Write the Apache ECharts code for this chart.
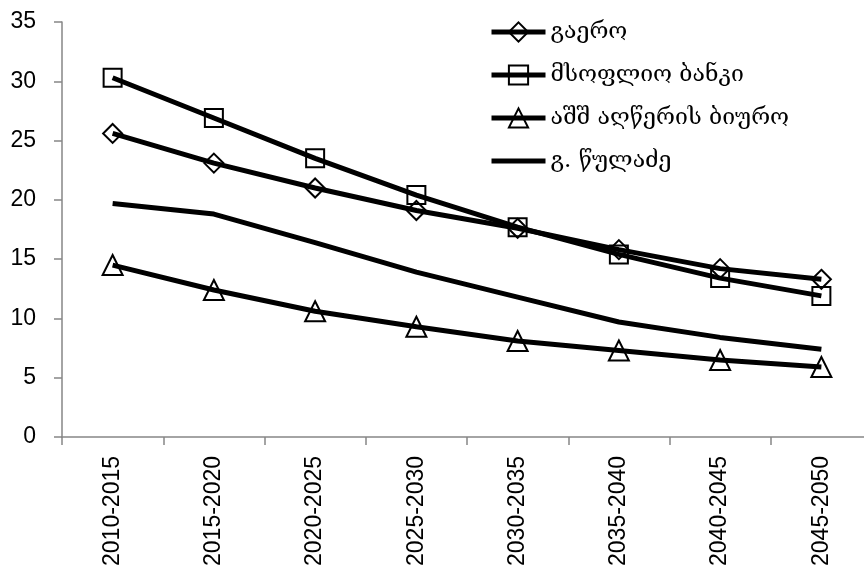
<!DOCTYPE html>
<html><head><meta charset="utf-8">
<script src="https://cdn.jsdelivr.net/npm/echarts@6/dist/echarts.min.js"></script>
<style>html,body{margin:0;padding:0;background:#fff;overflow:hidden;width:864px;height:572px}#c{width:880px;height:572px}</style>
</head><body><div id="c"></div>
<script>
const categories = ['2010-2015','2015-2020','2020-2025','2025-2030','2030-2035','2035-2040','2040-2045','2045-2050'];
const seriesNames = ['გაერო','მსოფლიო ბანკი','აშშ აღწერის ბიურო','გ. წულაძე'];
const unValues = [25.6, 23.1, 21.0, 19.1, 17.6, 15.8, 14.2, 13.3];
const worldBankValues = [30.3, 26.9, 23.5, 20.4, 17.7, 15.4, 13.4, 11.9];
const censusValues = [14.5, 12.4, 10.6, 9.3, 8.1, 7.3, 6.5, 5.9];
const tsuladzeValues = [19.7, 18.8, 16.4, 13.9, 11.8, 9.7, 8.4, 7.4];
const yTicks = [0, 5, 10, 15, 20, 25, 30, 35];

const chart = echarts.init(document.getElementById('c'), null, {renderer: 'canvas'});
function mk(name, data, symbol, size) {
  return {
    name, type: 'line', data,
    symbol: symbol || 'none', symbolSize: size || 16,
    showSymbol: !!symbol,
    lineStyle: {color: '#000', width: 5},
    itemStyle: {color: 'rgba(0,0,0,0)', borderColor: symbol ? '#000' : 'rgba(0,0,0,0)', borderWidth: 2},
    emphasis: {disabled: true},
    z: 2
  };
}
chart.setOption({
  animation: false,
  grid: {left: 62, top: 22, right: 8, bottom: 135},
  legend: {
    orient: 'vertical', left: 484, top: 15,
    itemWidth: 54, itemHeight: 24, itemGap: 19,
    lineStyle: {width: 5, color: '#000'},
    textStyle: {fontFamily: 'DejaVu Serif', fontSize: 23, lineHeight: 24, color: '#000'},
    data: seriesNames
  },
  xAxis: {
    type: 'category', data: categories, boundaryGap: true,
    axisLine: {lineStyle: {color: '#868686', width: 1.5}},
    axisTick: {show: true, length: 8, alignWithLabel: false, lineStyle: {color: '#868686', width: 1.5}},
    axisLabel: {rotate: 90, fontFamily: 'Liberation Sans', fontSize: 23, color: '#000', margin: 19}
  },
  yAxis: {
    type: 'value', min: 0, max: 35, interval: 5,
    axisLine: {show: true, lineStyle: {color: '#868686', width: 1.5}},
    axisTick: {show: true, length: 8, lineStyle: {color: '#868686', width: 1.5}},
    splitLine: {show: false},
    axisLabel: {fontFamily: 'Liberation Sans', fontSize: 23, color: '#000', margin: 26,
      formatter: v => yTicks.includes(v) ? String(v) : ''}
  },
  series: [
    mk(seriesNames[0], unValues, 'diamond', 19),
    mk(seriesNames[1], worldBankValues, 'rect', 18),
    mk(seriesNames[2], censusValues, 'triangle', 20),
    mk(seriesNames[3], tsuladzeValues, null)
  ]
});
</script></body></html>
